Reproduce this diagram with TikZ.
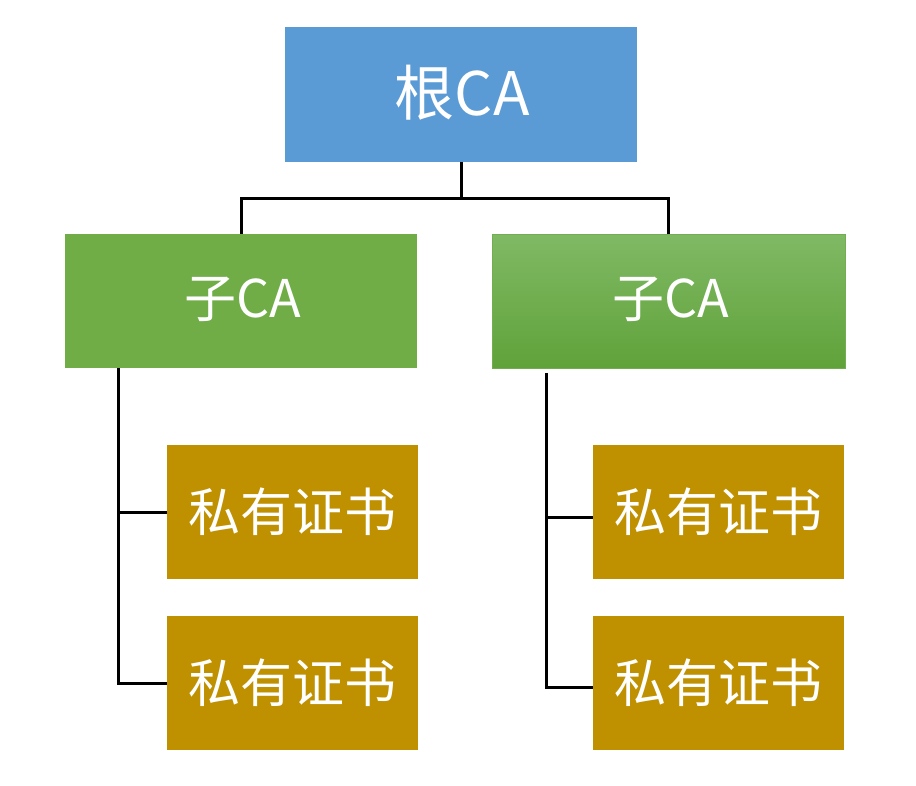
\documentclass[tikz,border=0pt]{standalone}
\usepackage{fontspec}
\newfontfamily\cjk{Noto Sans CJK SC}
\definecolor{rootblue}{HTML}{5B9BD5}
\definecolor{subgreen}{HTML}{70AD47}
\definecolor{gtop}{HTML}{80B964}
\definecolor{gbot}{HTML}{60A23A}
\definecolor{gborder}{HTML}{72AE50}
\definecolor{certgold}{HTML}{BF9000}
\tikzset{
  x=1pt,y=-1pt,
  rootbox/.style={fill=rootblue, minimum width=352pt, minimum height=135pt, inner sep=0pt, anchor=north west},
  subbox/.style={fill=subgreen, minimum width=352pt, minimum height=134pt, inner sep=0pt, anchor=north west},
  subboxg/.style={top color=gtop, bottom color=gbot, draw=gborder, line width=1pt, minimum width=353pt, minimum height=134pt, inner sep=0pt, anchor=north west},
  certbox/.style={fill=certgold, minimum width=251pt, minimum height=134pt, inner sep=0pt, anchor=north west},
  lbl/.style={text=white, font=\cjk\fontsize{#1}{#1}\selectfont, inner sep=0pt},
  conn/.style={draw=black, line width=3pt}
}
\begin{document}
\begin{tikzpicture}
\useasboundingbox[fill=white] (0,0) rectangle (916,786);
% connectors
\coordinate (rj) at (461,199);
\coordinate (lj) at (241,199);
\coordinate (rrj) at (668,199);
\coordinate (lv) at (118,512);
\coordinate (lv2) at (118,683);
\coordinate (rv) at (546,517);
\coordinate (rv2) at (546,687);
% boxes
\node[rootbox] (root) at (285,27) {};
\node[subbox] (subL) at (65,234) {};
\node[subboxg] (subR) at (492,234) {};
\node[certbox] (c1) at (167,445) {};
\node[certbox] (c2) at (167,616) {};
\node[certbox] (c3) at (593,445) {};
\node[certbox] (c4) at (593,616) {};
\draw[conn] (root.south -| rj) -- (rj);
\draw[conn] (lj |- subL.north) -- (lj) -- (rrj) -- (rrj |- subR.north);
\draw[conn] (lv |- subL.south) -- (lv2) -- (lv2 -| c2.west);
\draw[conn] (lv) -- (lv -| c1.west);
\draw[conn] (546,373) -- (rv2) -- (rv2 -| c4.west);
\draw[conn] (rv) -- (rv -| c3.west);
% labels
\node[lbl=60] (root-t) at ([xshift=1pt,yshift=2pt]root.center) {根CA};
\node[lbl=52] (subL-t) at ([xshift=2pt,yshift=2pt]subL.center) {子CA};
\node[lbl=52] (subR-t) at ([xshift=2pt,yshift=2pt]subR.center) {子CA};
\node[lbl=52] (c1-t) at ([xshift=0pt,yshift=0pt]c1.center) {私有证书};
\node[lbl=52] (c2-t) at ([xshift=0pt,yshift=0pt]c2.center) {私有证书};
\node[lbl=52] (c3-t) at ([xshift=0pt,yshift=0pt]c3.center) {私有证书};
\node[lbl=52] (c4-t) at ([xshift=0pt,yshift=0pt]c4.center) {私有证书};
\end{tikzpicture}
\end{document}
